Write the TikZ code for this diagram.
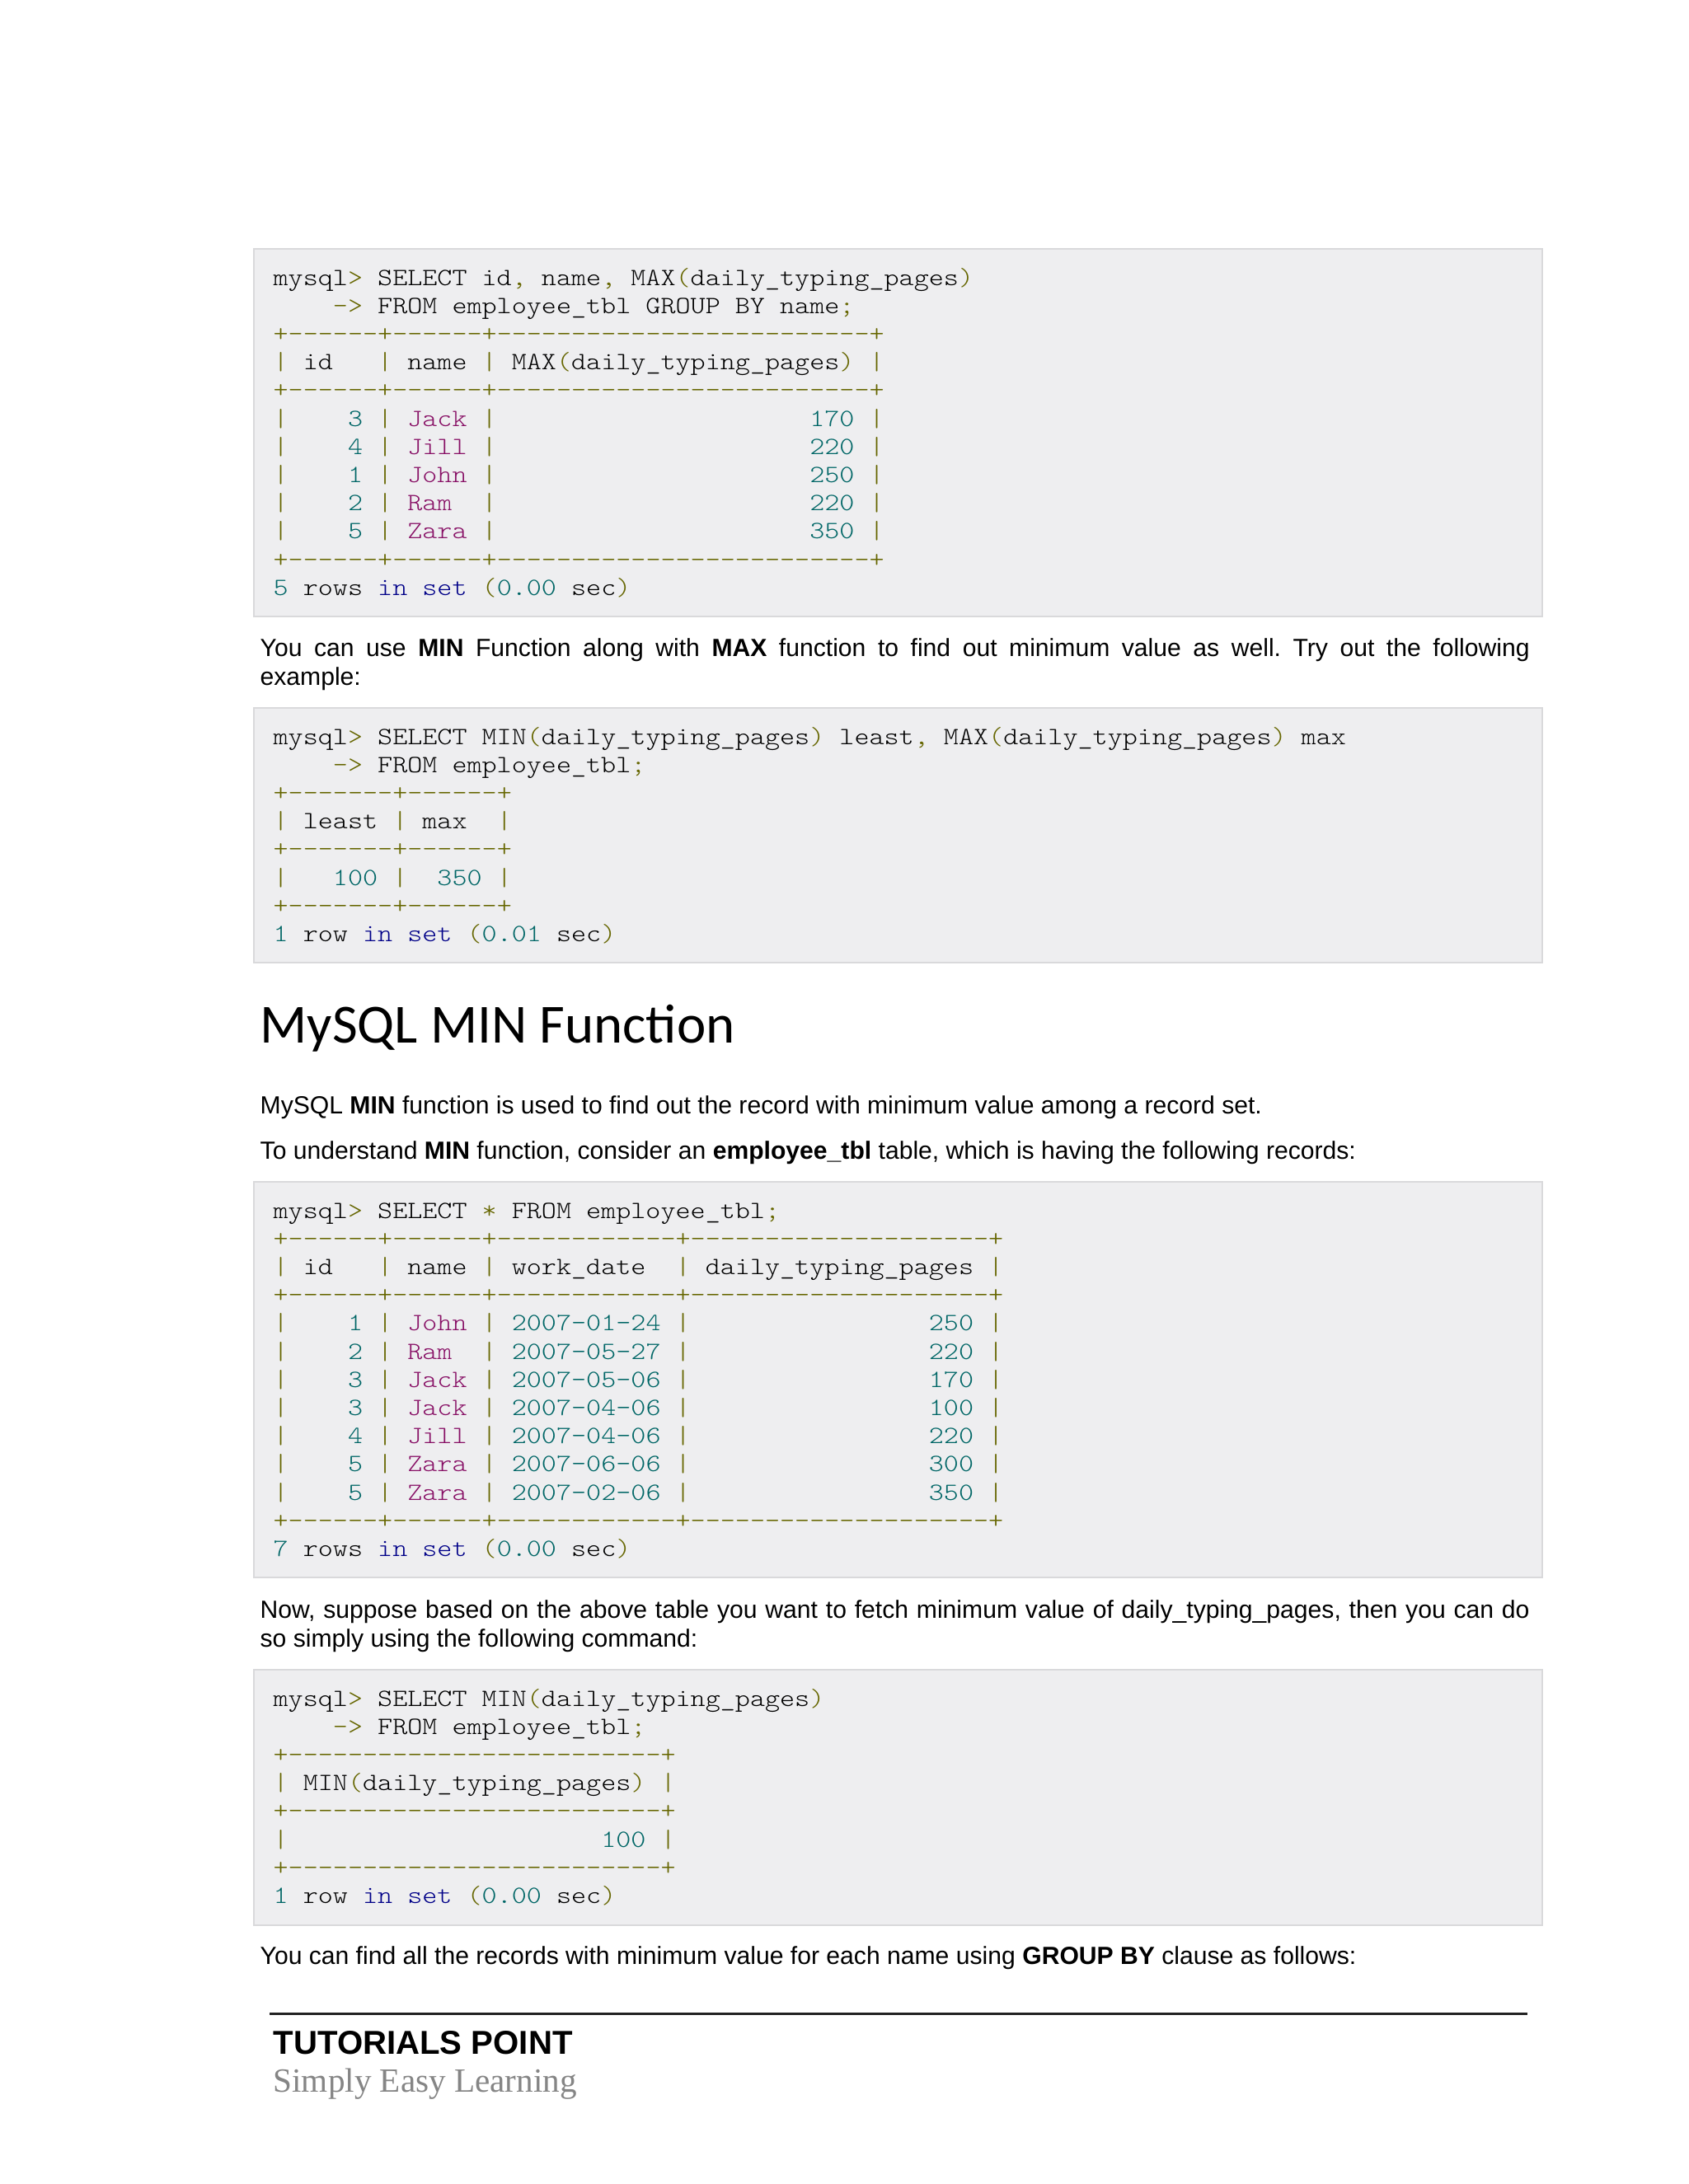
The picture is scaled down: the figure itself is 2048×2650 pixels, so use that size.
\documentclass[tikz,border=0pt]{standalone}
\usepackage{fontspec}
\setmainfont{Liberation Sans}
\newfontfamily\cmono{lmmonolt10-regular}[Extension=.otf,FakeStretch=1.143]
\newfontfamily\headfont{Carlito}
\newfontfamily\tpserif{Liberation Serif}
\definecolor{cpun}{HTML}{666600}
\definecolor{clit}{HTML}{006666}
\definecolor{ctyp}{HTML}{881166}
\definecolor{ckwd}{HTML}{000088}
\definecolor{boxfill}{HTML}{EEEEF0}
\definecolor{boxline}{HTML}{D9D9DB}
\definecolor{footgray}{HTML}{858585}
\definecolor{rulecol}{HTML}{222222}
\newcommand{\cP}[1]{\textcolor{cpun}{#1}}
\newcommand{\cL}[1]{\textcolor{clit}{#1}}
\newcommand{\cT}[1]{\textcolor{ctyp}{#1}}
\newcommand{\cK}[1]{\textcolor{ckwd}{#1}}
\newcount\repcnt
\newcommand{\rep}[2]{\repcnt=#1\relax\loop\ifnum\repcnt>0 #2\advance\repcnt-1\relax\repeat}
\newcommand{\spc}[1]{\rep{#1}{\hphantom{0}}}
\newcommand{\bA}{\cP{+\rep{6}{-}+\rep{6}{-}+\rep{25}{-}+}}
\newcommand{\bB}{\cP{+\rep{7}{-}+\rep{6}{-}+}}
\newcommand{\bC}{\cP{+\rep{6}{-}+\rep{6}{-}+\rep{12}{-}+\rep{20}{-}+}}
\newcommand{\bD}{\cP{+\rep{25}{-}+}}
\newcommand{\rowA}[3]{\cP{|}\spc{4}\cL{#1} \cP{|} \cT{#2} \cP{|}\spc{21}\cL{#3} \cP{|}}
\newcommand{\rowC}[4]{\cP{|}\spc{4}\cL{#1} \cP{|} \cT{#2} \cP{|} \cL{#3} \cP{|}\spc{16}\cL{#4} \cP{|}}
\frenchspacing
\begin{document}
\begin{tikzpicture}[x=0.29883bp,y=-0.29883bp,
  code/.style={anchor=base west,inner sep=0pt,font=\cmono\fontsize{9bp}{10bp}\selectfont,text=black},
  body/.style={anchor=base west,inner sep=0pt,font=\fontsize{9bp}{10.46bp}\selectfont\frenchspacing,text=black},
  just/.style={body,text width=460.2bp,align=justify},
  codebox/.style={fill=boxfill,draw=boxline,line width=0.75bp}]
\useasboundingbox (0,0) rectangle (2048,2650);
\fill[white] (0,0) rectangle (2048,2650);

% code boxes
\draw[codebox] (308,302) rectangle (1871,748);
\draw[codebox] (308,859) rectangle (1871,1168);
\draw[codebox] (308,1434) rectangle (1871,1914);
\draw[codebox] (308,2026) rectangle (1871,2336);

% box 1
\node[code] (b1l1) at (331,346) {mysql\cP{>} SELECT id\cP{,} name\cP{,} MAX\cP{(}daily\_typing\_pages\cP{)}};
\node[code] (b1l2) at (331,380.2) {\spc{4}\cP{->} FROM employee\_tbl GROUP BY name\cP{;}};
\node[code] (b1l3) at (331,414.4) {\bA};
\node[code] (b1l4) at (331,448.6) {\cP{|} id\spc{3}\cP{|} name \cP{|} MAX\cP{(}daily\_typing\_pages\cP{)} \cP{|}};
\node[code] (b1l5) at (331,482.8) {\bA};
\node[code] (b1l6) at (331,517) {\rowA{3}{Jack}{170}};
\node[code] (b1l7) at (331,551.2) {\rowA{4}{Jill}{220}};
\node[code] (b1l8) at (331,585.4) {\rowA{1}{John}{250}};
\node[code] (b1l9) at (331,619.6) {\cP{|}\spc{4}\cL{2} \cP{|} \cT{Ram}\spc{2}\cP{|}\spc{21}\cL{220} \cP{|}};
\node[code] (b1l10) at (331,653.8) {\rowA{5}{Zara}{350}};
\node[code] (b1l11) at (331,688) {\bA};
\node[code] (b1l12) at (331,722.2) {\cL{5} rows \cK{in} \cK{set} \cP{(}\cL{0.00} sec\cP{)}};

% paragraph 1
\node[just] (p1) at (315,796) {You can use \textbf{MIN} Function along with \textbf{MAX} function to find out minimum value as well. Try out the following\linebreak example:};

% box 2
\node[code] (b2l1) at (331,903) {mysql\cP{>} SELECT MIN\cP{(}daily\_typing\_pages\cP{)} least\cP{,} MAX\cP{(}daily\_typing\_pages\cP{)} max};
\node[code] (b2l2) at (331,937.2) {\spc{4}\cP{->} FROM employee\_tbl\cP{;}};
\node[code] (b2l3) at (331,971.4) {\bB};
\node[code] (b2l4) at (331,1005.6) {\cP{|} least \cP{|} max\spc{2}\cP{|}};
\node[code] (b2l5) at (331,1039.8) {\bB};
\node[code] (b2l6) at (331,1074) {\cP{|}\spc{3}\cL{100} \cP{|}\spc{2}\cL{350} \cP{|}};
\node[code] (b2l7) at (331,1108.2) {\bB};
\node[code] (b2l8) at (331,1142.4) {\cL{1} row \cK{in} \cK{set} \cP{(}\cL{0.01} sec\cP{)}};

% heading and paragraphs
\node[anchor=base west,inner sep=0pt,font=\headfont\fontsize{20bp}{24bp}\selectfont] (h1) at (315,1265) {MySQL MIN Function};
\node[body] (p2) at (315,1351) {MySQL \textbf{MIN} function is used to find out the record with minimum value among a record set.};
\node[body] (p3) at (315,1406) {To understand \textbf{MIN} function, consider an \textbf{employee\_tbl} table, which is having the following records:};

% box 3
\node[code] (b3l1) at (331,1478) {mysql\cP{>} SELECT \cP{*} FROM employee\_tbl\cP{;}};
\node[code] (b3l2) at (331,1512.2) {\bC};
\node[code] (b3l3) at (331,1546.4) {\cP{|} id\spc{3}\cP{|} name \cP{|} work\_date\spc{2}\cP{|} daily\_typing\_pages \cP{|}};
\node[code] (b3l4) at (331,1580.6) {\bC};
\node[code] (b3l5) at (331,1614.8) {\rowC{1}{John}{2007-01-24}{250}};
\node[code] (b3l6) at (331,1649) {\cP{|}\spc{4}\cL{2} \cP{|} \cT{Ram}\spc{2}\cP{|} \cL{2007-05-27} \cP{|}\spc{16}\cL{220} \cP{|}};
\node[code] (b3l7) at (331,1683.2) {\rowC{3}{Jack}{2007-05-06}{170}};
\node[code] (b3l8) at (331,1717.4) {\rowC{3}{Jack}{2007-04-06}{100}};
\node[code] (b3l9) at (331,1751.6) {\rowC{4}{Jill}{2007-04-06}{220}};
\node[code] (b3l10) at (331,1785.8) {\rowC{5}{Zara}{2007-06-06}{300}};
\node[code] (b3l11) at (331,1820) {\rowC{5}{Zara}{2007-02-06}{350}};
\node[code] (b3l12) at (331,1854.2) {\bC};
\node[code] (b3l13) at (331,1888.4) {\cL{7} rows \cK{in} \cK{set} \cP{(}\cL{0.00} sec\cP{)}};

% paragraph 4
\node[just] (p4) at (315,1963) {Now, suppose based on the above table you want to fetch minimum value of daily\_typing\_pages, then you can do\linebreak so simply using the following command:};

% box 4
\node[code] (b4l1) at (331,2070) {mysql\cP{>} SELECT MIN\cP{(}daily\_typing\_pages\cP{)}};
\node[code] (b4l2) at (331,2104.2) {\spc{4}\cP{->} FROM employee\_tbl\cP{;}};
\node[code] (b4l3) at (331,2138.4) {\bD};
\node[code] (b4l4) at (331,2172.6) {\cP{|} MIN\cP{(}daily\_typing\_pages\cP{)} \cP{|}};
\node[code] (b4l5) at (331,2206.8) {\bD};
\node[code] (b4l6) at (331,2241) {\cP{|}\spc{21}\cL{100} \cP{|}};
\node[code] (b4l7) at (331,2275.2) {\bD};
\node[code] (b4l8) at (331,2309.4) {\cL{1} row \cK{in} \cK{set} \cP{(}\cL{0.00} sec\cP{)}};

% paragraph 5
\node[body] (p5) at (315,2383) {You can find all the records with minimum value for each name using \textbf{GROUP BY} clause as follows:};

% footer
\coordinate (rl) at (327,2443);
\coordinate (rr) at (1853,2443);
\draw[rulecol,line width=0.9bp] (rl) -- (rr);
\node[anchor=base west,inner sep=0pt,font=\bfseries\fontsize{12bp}{14bp}\selectfont] (tp) at (331,2492) {TUTORIALS POINT};
\node[anchor=base west,inner sep=0pt,text=footgray,font=\tpserif\fontsize{12.3bp}{14bp}\selectfont] (sel) at (331,2538) {Simply Easy Learning};
\end{tikzpicture}
\end{document}
